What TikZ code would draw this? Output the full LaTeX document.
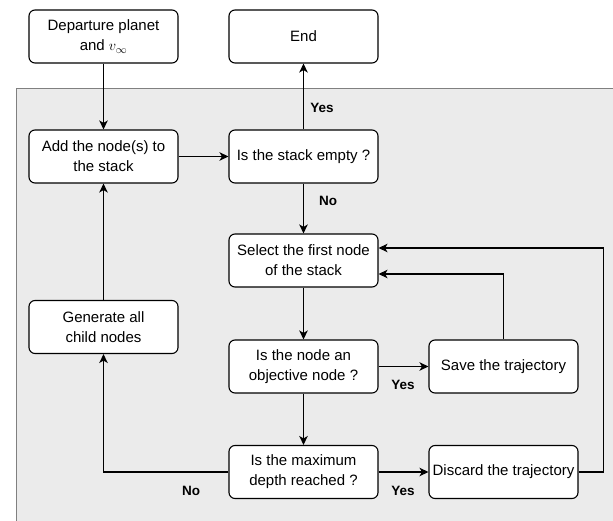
\documentclass[tikz,border=0pt]{standalone}
\usepackage{fontspec}
\setmainfont{Liberation Sans}
\usetikzlibrary{arrows.meta}
\definecolor{panelfill}{RGB}{235,235,235}
\definecolor{panelline}{RGB}{128,128,128}
\begin{document}
\begin{tikzpicture}[x=1pt,y=-1pt,
  box/.style={draw=black,fill=white,rounded corners=6pt,line width=1.1pt,
    minimum width=149pt,minimum height=53pt,align=center,inner sep=2pt,
    font=\fontsize{15}{20}\selectfont},
  arr/.style={line width=1.1pt,-{Stealth[length=9pt,width=8.5pt,inset=2.5pt]}},
  lab/.style={font=\fontsize{13.5}{15}\selectfont\bfseries,inner sep=0pt}]
\useasboundingbox (0,0) rectangle (613,521);
\clip (0,0) rectangle (613,521);
\fill[white] (0,0) rectangle (613,521);
\draw[fill=panelfill,draw=panelline,line width=1pt] (16.5,89) rectangle (640,540);

\node[box] (dep)    at (103.5,36.5) {Departure planet\\and $v_\infty$};
\node[box] (end)    at (303.5,36.5) {End};
\node[box] (add)    at (103.5,156.5) {Add the node(s) to\\the stack};
\node[box] (empty)  at (303.5,156.5) {Is the stack empty ?};
\node[box] (select) at (303.5,260.5) {Select the first node\\of the stack};
\node[box] (obj)    at (303.5,366.5) {Is the node an\\objective node ?};
\node[box] (save)   at (503.5,366.5) {Save the trajectory};
\node[box] (maxd)   at (303.5,472) {Is the maximum\\depth reached ?};
\node[box] (disc)   at (503.5,472) {Discard the trajectory};
\node[box] (gen)    at (103.5,327) {Generate all\\child nodes};

\draw[arr] (dep) -- (add);
\draw[arr] (add) -- (empty);
\draw[arr] (empty) -- (end);
\draw[arr] (empty) -- (select);
\draw[arr] (select) -- (obj);
\draw[arr] (obj) -- (save);
\draw[arr] (obj) -- (maxd);
\draw[arr] (maxd) -- (disc);
\draw[arr] (maxd.west) -| (gen.south);
\draw[arr] (gen) -- (add);
\draw[arr] (save.north) |- ([yshift=-13.5pt]select.east);
\draw[arr] (disc.east) -- ++(25,0) |- ([yshift=12.5pt]select.east);

\node[lab] (l1) at (322,108) {Yes};
\node[lab] (l2) at (328,201) {No};
\node[lab] (l3) at (403,385) {Yes};
\node[lab] (l4) at (403,491) {Yes};
\node[lab] (l5) at (191,491) {No};
\end{tikzpicture}
\end{document}
